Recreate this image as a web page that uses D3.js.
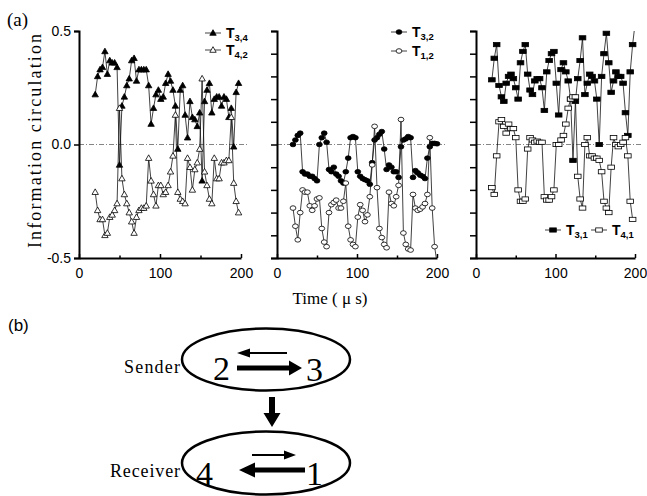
<!DOCTYPE html>
<html>
<head>
<meta charset="utf-8">
<script src="https://cdnjs.cloudflare.com/ajax/libs/d3/7.8.5/d3.min.js"></script>
<style>
  body { margin: 0; background: #fff; }
  svg { display: block; }
</style>
</head>
<body>
<svg id="chart" width="647" height="496"></svg>
<script>
// sample times (microseconds)
const time = [20,23,26,29,32,35,38,41,44,47,50,53,56,59,62,65,68,71,74,77,80,83,86,89,92,95,98,101,104,107,
  110,113,116,119,122,125,128,131,134,137,140,143,146,149,152,155,158,161,164,167,170,173,176,179,182,185,188,191,194,197,200];

// panel 1: T3,4 (filled triangles), T4,2 (open triangles)
const p1T34 = [0.22,0.30,0.33,0.34,0.41,0.31,0.37,0.36,0.36,0.34,
  -0.09,0.17,0.21,0.26,0.29,0.37,0.38,0.28,0.33,0.33,
  0.33,0.33,0.26,0.09,0.16,0.22,0.24,0.20,0.21,0.27,
  0.31,0.28,0.24,0.17,-0.02,0.24,0.26,0.13,0.03,0.19,
  0.12,0.11,0.08,0.14,-0.16,0.19,0.24,0.27,0.14,0.20,
  0.21,0.21,0.17,0.21,0.20,0.12,0.16,-0.01,0.23,0.27];
const p1T42 = [-0.21,-0.29,-0.33,-0.33,-0.40,-0.39,-0.32,-0.31,-0.29,-0.26,
  0.16,-0.15,-0.22,-0.26,-0.30,-0.34,-0.39,-0.32,-0.29,-0.28,
  -0.28,-0.27,-0.06,-0.16,-0.22,-0.27,-0.18,-0.18,-0.22,-0.21,
  -0.18,-0.12,-0.05,0.13,-0.21,-0.24,-0.25,-0.26,-0.06,-0.10,
  -0.20,-0.11,-0.08,-0.02,0.29,-0.12,-0.18,-0.24,-0.26,-0.06,
  -0.15,-0.15,-0.08,-0.08,-0.07,-0.07,0.12,-0.17,-0.25,-0.30];

// panel 2: T3,2 (filled circles), T1,2 (open circles)
const p2T32 = [0.00,0.02,0.04,0.05,-0.12,-0.13,-0.13,-0.14,-0.14,-0.15,
  -0.16,0.00,0.03,0.05,0.01,-0.11,-0.12,-0.10,-0.13,-0.14,
  -0.16,-0.17,-0.12,-0.06,0.03,0.035,0.03,-0.12,-0.14,-0.15,
  -0.155,-0.16,-0.175,-0.08,0.02,0.03,0.045,0.057,-0.02,-0.11,
  -0.09,-0.10,-0.12,-0.12,-0.145,-0.01,0.02,0.025,0.035,0.03,
  -0.145,-0.115,-0.125,-0.135,-0.14,-0.15,-0.06,-0.01,0.005,0.005,0.003];
const p2T12 = [-0.28,-0.36,-0.42,-0.30,-0.20,-0.21,-0.21,-0.27,-0.29,-0.27,
  -0.24,-0.235,-0.37,-0.43,-0.45,-0.30,-0.265,-0.255,-0.245,-0.28,
  -0.28,-0.25,-0.17,-0.36,-0.42,-0.44,-0.45,-0.32,-0.265,-0.29,
  -0.34,-0.31,-0.23,-0.09,0.08,-0.19,-0.37,-0.41,-0.44,-0.455,
  -0.21,-0.26,-0.27,-0.23,-0.18,0.11,-0.39,-0.44,-0.46,-0.465,
  -0.22,-0.28,-0.29,-0.285,-0.275,-0.26,-0.22,0.03,-0.28,-0.45,-0.52];

// panel 3: T3,1 (filled squares), T4,1 (open squares)
const p3T31 = [0.285,0.38,0.44,0.26,0.21,0.19,0.27,0.30,0.31,0.29,
  0.25,0.20,0.36,0.41,0.44,0.31,0.24,0.22,0.28,0.29,
  0.29,0.25,0.15,0.32,0.37,0.40,0.41,0.27,0.13,0.33,
  0.36,0.32,0.28,0.20,-0.07,0.19,0.29,0.37,0.47,0.22,
  0.27,0.31,0.30,0.28,0.20,0.00,0.30,0.40,0.49,0.36,
  0.23,0.28,0.32,0.30,0.30,0.27,0.14,0.04,0.32,0.44,0.53];
const p3T41 = [-0.19,-0.22,-0.05,0.10,0.11,0.08,0.05,0.09,0.07,0.07,
  0.03,-0.20,-0.25,-0.25,-0.24,-0.02,0.03,0.02,0.01,0.015,
  0.01,0.01,-0.23,-0.245,-0.245,-0.23,-0.20,0.00,0.00,0.02,
  0.04,0.09,0.16,0.20,0.21,0.21,-0.14,-0.24,-0.28,0.00,
  0.03,-0.05,-0.05,-0.06,-0.06,-0.07,-0.12,-0.25,-0.28,-0.30,
  -0.10,0.03,0.00,-0.01,0.00,0.01,0.03,-0.05,-0.25,-0.33];

const xTicks = [0, 100, 200];
const xMinor = [50, 150];
const yTicks = [-0.5, 0, 0.5];
const yMinor = [-0.5,-0.4,-0.3,-0.2,-0.1,0,0.1,0.2,0.3,0.4,0.5];

const serif = "'Liberation Serif','Times New Roman',serif";
const sans = "'Liberation Sans',Arial,Helvetica,sans-serif";

const svg = d3.select("#chart");
const yTop = 31, yBot = 258;

const panels = [
  { x0: 79, x1: 241, shape: "tri", labels: true,
    series: [{ v: p1T34, sub: "3,4", fill: true }, { v: p1T42, sub: "4,2", fill: false }],
    legend: [[213, 33], [213, 50]] },
  { x0: 277, x1: 437, shape: "circ", labels: false,
    series: [{ v: p2T32, sub: "3,2", fill: true }, { v: p2T12, sub: "1,2", fill: false }],
    legend: [[399, 32], [399, 51]] },
  { x0: 476, x1: 635, shape: "sq", labels: false,
    series: [{ v: p3T31, sub: "3,1", fill: true }, { v: p3T41, sub: "4,1", fill: false }],
    legend: [[553, 230], [599, 230]] }
];

function drawMarker(sel, shape, filled) {
  const f = filled ? "#000" : "#fff";
  let m;
  if (shape === "tri") m = sel.append("path").attr("d", "M0,-3.3L3.2,2.3L-3.2,2.3Z");
  else if (shape === "circ") m = sel.append("ellipse").attr("rx", 2.9).attr("ry", 2.3);
  else m = sel.append("rect").attr("x", -3.3).attr("y", -2.1).attr("width", 6.6).attr("height", 4.2);
  m.attr("fill", f).attr("stroke", "#000").attr("stroke-width", 0.8);
}

panels.forEach((p, i) => {
  const x = d3.scaleLinear().domain([0, 200]).range([p.x0, p.x1]);
  const y = d3.scaleLinear().domain([-0.5, 0.5]).range([yBot, yTop]);
  const g = svg.append("g");

  svg.append("clipPath").attr("id", "clip" + i)
    .append("rect").attr("x", p.x0).attr("y", yTop)
    .attr("width", p.x1 - p.x0 + 4).attr("height", yBot - yTop);

  // zero reference line
  g.append("line")
    .attr("x1", p.x0).attr("x2", p.x1 + 8)
    .attr("y1", y(0)).attr("y2", y(0))
    .attr("stroke", "#666").attr("stroke-width", 0.8)
    .attr("stroke-dasharray", "5,2,1,2");

  const line = d3.line().x(d => x(d[0])).y(d => y(d[1]));

  p.series.forEach(s => {
    const pts = s.v.map((v, k) => [time[k], v]);
    g.append("path")
      .attr("d", line(pts))
      .attr("fill", "none")
      .attr("stroke", "#111")
      .attr("stroke-width", 0.8)
      .attr("clip-path", `url(#clip${i})`);
    g.append("g")
      .selectAll("g")
      .data(pts.filter(d => d[1] >= -0.5 && d[1] <= 0.5))
      .join("g")
      .attr("transform", d => `translate(${x(d[0])},${y(d[1])})`)
      .each(function () { drawMarker(d3.select(this), p.shape, s.fill); });
  });

  // y axis
  const yAxis = p.labels
    ? d3.axisLeft(y).tickValues(yTicks).tickFormat(d => d.toFixed(1)).tickSize(5).tickPadding(3)
    : d3.axisLeft(y).tickValues(yMinor).tickFormat("").tickSize(6);
  const ya = g.append("g").attr("transform", `translate(${p.x0},0)`).call(yAxis);
  ya.attr("font-family", sans).attr("font-size", 14);

  // x axis
  const xa = g.append("g").attr("transform", `translate(0,${yBot})`)
    .call(d3.axisBottom(x).tickValues(xTicks).tickSizeInner(-4).tickSizeOuter(0).tickPadding(10));
  xa.attr("font-family", sans).attr("font-size", 14);
  const xm = g.append("g").attr("transform", `translate(0,${yBot})`)
    .call(d3.axisBottom(x).tickValues(xMinor).tickSize(-2.5).tickFormat(""));
  xm.select(".domain").remove();

  [ya, xa, xm].forEach(a => {
    a.select(".domain").attr("stroke", "#000").attr("stroke-width", 2);
    a.selectAll(".tick line").attr("stroke", "#000").attr("stroke-width", 1.5);
    a.selectAll(".tick text").attr("fill", "#000");
  });

  // legend
  p.series.forEach((s, k) => {
    const [lx, ly] = p.legend[k];
    const lg = svg.append("g");
    lg.append("line").attr("x1", lx - 8).attr("x2", lx + 8).attr("y1", ly).attr("y2", ly)
      .attr("stroke", "#111").attr("stroke-width", 0.8);
    drawMarker(lg.append("g").attr("transform", `translate(${lx},${ly})`), p.shape, s.fill);
    const t = lg.append("text").attr("x", lx + 13).attr("y", ly + 5)
      .attr("font-family", sans).attr("font-weight", "bold").attr("font-size", 14).text("T");
    t.append("tspan").attr("dy", 3).attr("font-size", 9.5).text(s.sub);
  });
});

// panel titles and axis labels
svg.append("text").attr("x", 7).attr("y", 26)
  .attr("font-family", serif).attr("font-size", 19).text("(a)");
svg.append("text")
  .attr("transform", "translate(41,141) rotate(-90)")
  .attr("text-anchor", "middle")
  .attr("font-family", serif).attr("font-size", 18)
  .attr("textLength", 214).attr("lengthAdjust", "spacing")
  .text("Information circulation");
svg.append("text").attr("x", 330).attr("y", 304).attr("text-anchor", "middle")
  .attr("font-family", serif).attr("font-size", 17).text("Time ( \u03bc s)");

// (b) diagram
svg.append("text").attr("x", 8).attr("y", 331)
  .attr("font-family", sans).attr("font-size", 17).text("(b)");

const diag = svg.append("g").attr("fill", "#000");
diag.append("ellipse").attr("cx", 266).attr("cy", 359.5).attr("rx", 84).attr("ry", 31)
  .attr("fill", "none").attr("stroke", "#000").attr("stroke-width", 2.5);
diag.append("ellipse").attr("cx", 266).attr("cy", 463).attr("rx", 84).attr("ry", 31.5)
  .attr("fill", "none").attr("stroke", "#000").attr("stroke-width", 2.5);

diag.append("text").attr("x", 180).attr("y", 373).attr("text-anchor", "end")
  .attr("font-family", serif).attr("font-size", 18)
  .attr("textLength", 56).attr("lengthAdjust", "spacing").text("Sender");
diag.append("text").attr("x", 180).attr("y", 477).attr("text-anchor", "end")
  .attr("font-family", serif).attr("font-size", 18)
  .attr("textLength", 70).attr("lengthAdjust", "spacing").text("Receiver");

const nums = [["2", 213, 380], ["3", 306, 381], ["4", 196, 485], ["1", 306, 485]];
nums.forEach(n => diag.append("text").attr("x", n[1]).attr("y", n[2])
  .attr("font-family", serif).attr("font-size", 34).text(n[0]));

// arrows
const arrows = [
  "M237,365.5H289V360.5L302,368L289,375.5V370.5H237Z",
  "M287,352H250V348.5L237,353L250,357.5V354H287Z",
  "M269,397H275V413H280.5L272,427L263.5,413H269Z",
  "M305,467.5H255V462.5L239,470L255,477.5V472.5H305Z",
  "M252,454H284V450.5L296,455L284,459.5V456H252Z"
];
arrows.forEach(d => diag.append("path").attr("d", d));
</script>
</body>
</html>
